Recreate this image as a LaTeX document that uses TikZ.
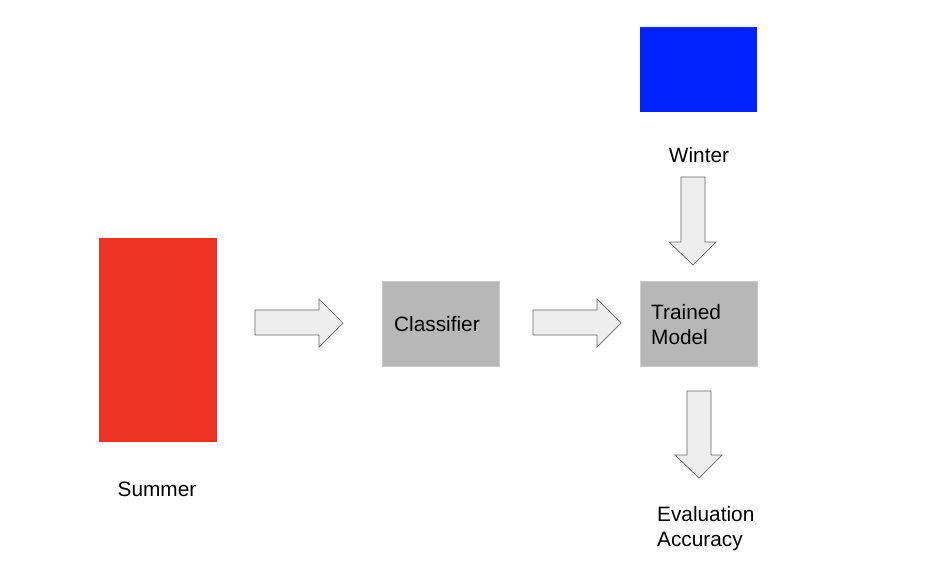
\documentclass[tikz,border=0pt]{standalone}
\usepackage{fontspec}
\setmainfont{Liberation Sans}
\definecolor{sred}{RGB}{238,51,36}
\definecolor{wblue}{RGB}{0,34,255}
\definecolor{boxgray}{RGB}{183,183,183}
\definecolor{boxline}{RGB}{204,204,204}
\definecolor{arrfill}{RGB}{238,238,238}
\definecolor{arrline}{RGB}{102,102,102}
\begin{document}
\begin{tikzpicture}[x=1pt,y=-1pt,
  lbl/.style={font=\fontsize{20.8}{25}\selectfont, inner sep=0pt, align=left},
  gbox/.style={fill=boxgray, draw=boxline, line width=0.8pt},
  blockarrow/.style={fill=arrfill, draw=arrline, line width=0.7pt, line join=miter}]
\useasboundingbox (0,0) rectangle (936,578);
% data blocks
\fill[sred] (99,238) rectangle (217,442);
\fill[wblue] (640,27) rectangle (757,112);
% boxes
\draw[gbox] (382,281) rectangle (499,366);
\draw[gbox] (640,281) rectangle (757,366);
% labels
\node[lbl] (winter) at (699,155) {Winter};
\node[lbl] (summer) at (157,489) {Summer};
\node[lbl, anchor=west] (classifier) at (394,324) {Classifier};
\node[lbl, anchor=west] (trained) at (651,324.5) {Trained\\Model};
\node[lbl, anchor=west] (eval) at (657,528.5) {Evaluation\\Accuracy};
% horizontal block arrows
\draw[blockarrow] (255,310) -- (319,310) -- (319,299) -- (343,323) -- (319,347) -- (319,335) -- (255,335) -- cycle;
\draw[blockarrow] (533,310) -- (597,310) -- (597,299) -- (621,323) -- (597,347) -- (597,335) -- (533,335) -- cycle;
% vertical block arrows
\draw[blockarrow] (681,177) -- (705,177) -- (705,242) -- (716,242) -- (693,265) -- (669,242) -- (681,242) -- cycle;
\draw[blockarrow] (687,391) -- (711,391) -- (711,455) -- (722,455) -- (699,478) -- (675,455) -- (687,455) -- cycle;
\end{tikzpicture}
\end{document}
